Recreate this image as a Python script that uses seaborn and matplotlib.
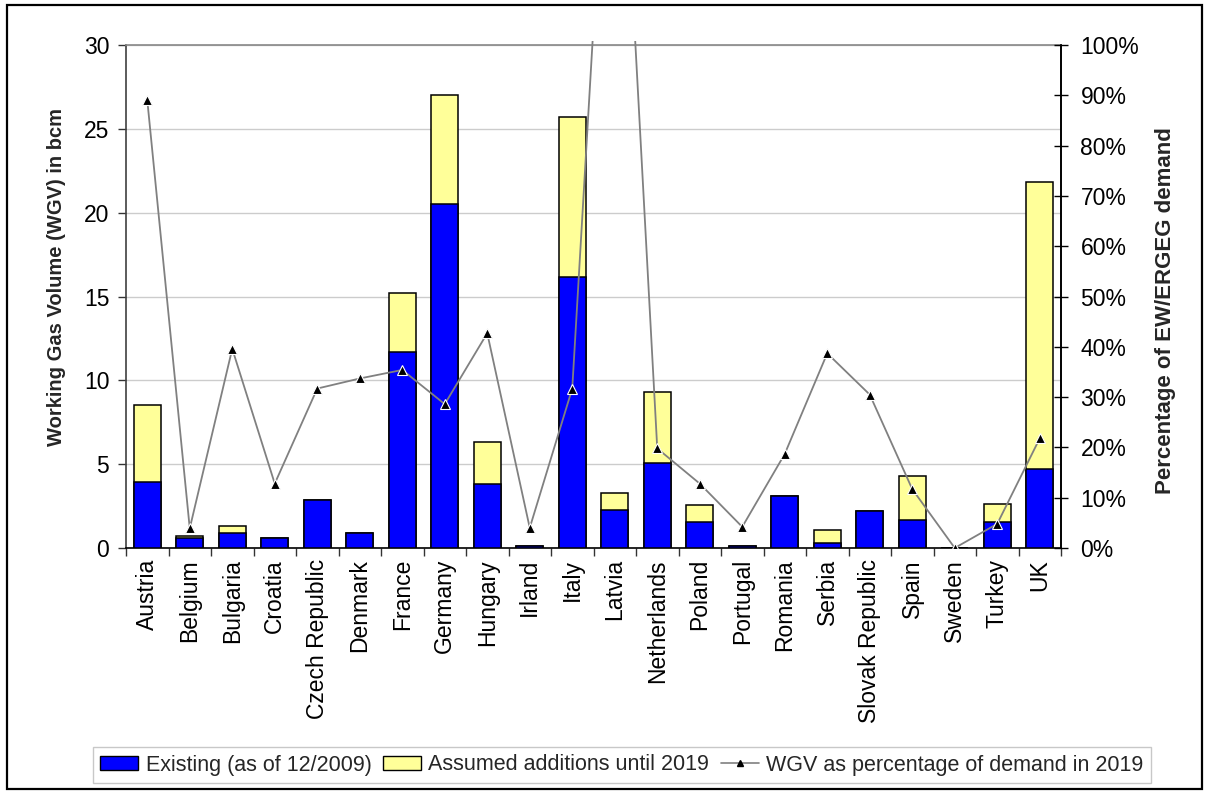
import numpy as np
import pandas as pd
import matplotlib
matplotlib.use("Agg")
import matplotlib.pyplot as plt
import seaborn as sns
from matplotlib.patches import Patch, Rectangle
from matplotlib.lines import Line2D
from matplotlib.ticker import FuncFormatter
from matplotlib.transforms import Bbox, TransformedBbox

# Underground gas storage, working gas volume per country (bcm)
countries = ["Austria", "Belgium", "Bulgaria", "Croatia", "Czech Republic", "Denmark",
             "France", "Germany", "Hungary", "Irland", "Italy", "Latvia", "Netherlands",
             "Poland", "Portugal", "Romania", "Serbia", "Slovak Republic", "Spain",
             "Sweden", "Turkey", "UK"]
existing = [3.94, 0.60, 0.88, 0.58, 2.86, 0.91, 11.67, 20.49, 3.80, 0.14, 16.18, 2.25,
            5.05, 1.57, 0.14, 3.10, 0.30, 2.19, 1.67, 0.0, 1.57, 4.69]
additions = [4.59, 0.10, 0.45, 0.0, 0.0, 0.0, 3.55, 6.52, 2.52, 0.0, 9.54, 1.03,
             4.25, 1.01, 0.0, 0.0, 0.77, 0.0, 2.62, 0.0, 1.04, 17.15]
# WGV as a share of 2019 demand (%)
pct_of_demand = [89.1, 3.9, 39.6, 12.8, 31.7, 33.7, 35.4, 28.6, 42.7, 4.0, 31.7, 176.0,
                 19.8, 12.8, 4.2, 18.7, 38.7, 30.5, 11.7, 0.0, 4.8, 21.8]
left_ticks = [0, 5, 10, 15, 20, 25, 30]
right_ticks = list(range(0, 101, 10))

BLUE = "#0000FF"
YELLOW = "#FFFF99"

sns.set_theme(style="white")
plt.rcParams["font.family"] = ["Liberation Sans", "DejaVu Sans"]

df = pd.DataFrame({"country": countries, "existing": existing, "additions": additions})
df["total"] = df["existing"] + df["additions"]

fig = plt.figure(figsize=(12.06, 7.93), dpi=100)
ax = fig.add_axes([126 / 1206, 1 - 548 / 793, 935 / 1206, 503 / 793])

# stacked bars: full height in yellow, existing part in blue on top of it
sns.barplot(data=df, x="country", y="total", color=YELLOW, saturation=1,
            edgecolor="black", linewidth=1.1, width=0.63, ax=ax, zorder=2)
sns.barplot(data=df, x="country", y="existing", color=BLUE, saturation=1,
            edgecolor="black", linewidth=1.1, width=0.63, ax=ax, zorder=3)

ax.set_ylim(0, 30)
ax.set_yticks(left_ticks)
ax.set_xlabel("")
ax.set_ylabel("")
ax.yaxis.grid(True, color="#cccccc", linewidth=1)
ax.set_axisbelow(True)
ax.tick_params(axis="y", which="major", left=True, length=6, width=1, color="#333333",
               direction="out", pad=6, labelsize=16.5, labelcolor="black")
ax.set_xticks(np.arange(len(countries)))
ax.set_xticklabels(countries, rotation=90)
ax.set_xticks(np.arange(-0.5, len(countries), 1.0), minor=True)
ax.tick_params(axis="x", which="major", bottom=True, length=0, pad=8, labelsize=16.5,
               labelcolor="black")
ax.tick_params(axis="x", which="minor", bottom=True, length=6, width=1, color="#333333",
               direction="out")

for side, col in [("top", "#888888"), ("left", "#404040"), ("bottom", "black"), ("right", "black")]:
    ax.spines[side].set_color(col)
    ax.spines[side].set_linewidth(1.2)

# secondary axis: share of demand
ax2 = ax.twinx()
sns.lineplot(x=np.arange(len(countries)), y=pct_of_demand, ax=ax2, color="#808080",
             linewidth=1.3, marker="^", markersize=7, markerfacecolor="black",
             markeredgecolor="white", markeredgewidth=0.8, zorder=5)
for line in ax2.lines:
    line.set_clip_box(TransformedBbox(Bbox([[0, 0], [1, 1.008]]), ax2.transAxes))
ax2.set_ylim(0, 100)
ax2.set_yticks(right_ticks)
ax2.yaxis.set_major_formatter(FuncFormatter(lambda v, p: f"{v:.0f}%"))
ax2.tick_params(axis="y", which="major", right=True, length=10, width=1, color="black",
                direction="inout", pad=9, labelsize=16.5, labelcolor="black")
ax2.set_ylabel("")
ax2.grid(False)
ax2.spines["left"].set_visible(False)
ax2.spines["top"].set_visible(False)
ax2.spines["bottom"].set_visible(False)
ax2.spines["right"].set_color("black")
ax2.spines["right"].set_linewidth(1.2)
ax.set_xlim(-0.5, len(countries) - 0.5)

fig.text(57 / 1206, 1 - 277.5 / 793, "Working Gas Volume (WGV) in bcm", rotation=90,
         ha="center", va="center", fontsize=14.5, fontweight="bold")
fig.text(1165 / 1206, 1 - 311 / 793, "Percentage of EW/ERGEG demand", rotation=90,
         ha="center", va="center", fontsize=16, fontweight="bold")

handles = [
    Patch(facecolor=BLUE, edgecolor="black", linewidth=1),
    Patch(facecolor=YELLOW, edgecolor="black", linewidth=1),
    Line2D([], [], color="#808080", linewidth=1.2, marker="^", markersize=4,
           markerfacecolor="black", markeredgecolor="black"),
]
labels = ["Existing (as of 12/2009)", "Assumed additions until 2019",
          "WGV as percentage of demand in 2019"]
leg = fig.legend(handles, labels, loc="center", bbox_to_anchor=(622 / 1206, 1 - 765 / 793),
                 ncol=3, fontsize=15.5, frameon=True, fancybox=False, borderpad=0.35,
                 handlelength=1.75, handleheight=0.6, handletextpad=0.35,
                 columnspacing=0.55, borderaxespad=0)
leg.get_frame().set_edgecolor("#bbbbbb")
leg.get_frame().set_linewidth(1)

# outer frame round the whole figure
fig.patches.append(Rectangle((6.7 / 1206, 4 / 793), (1202 - 6.7) / 1206, (788.3 - 4) / 793,
                             transform=fig.transFigure, fill=False, edgecolor="black",
                             linewidth=1.6))

fig.savefig("out.png", dpi=100)
